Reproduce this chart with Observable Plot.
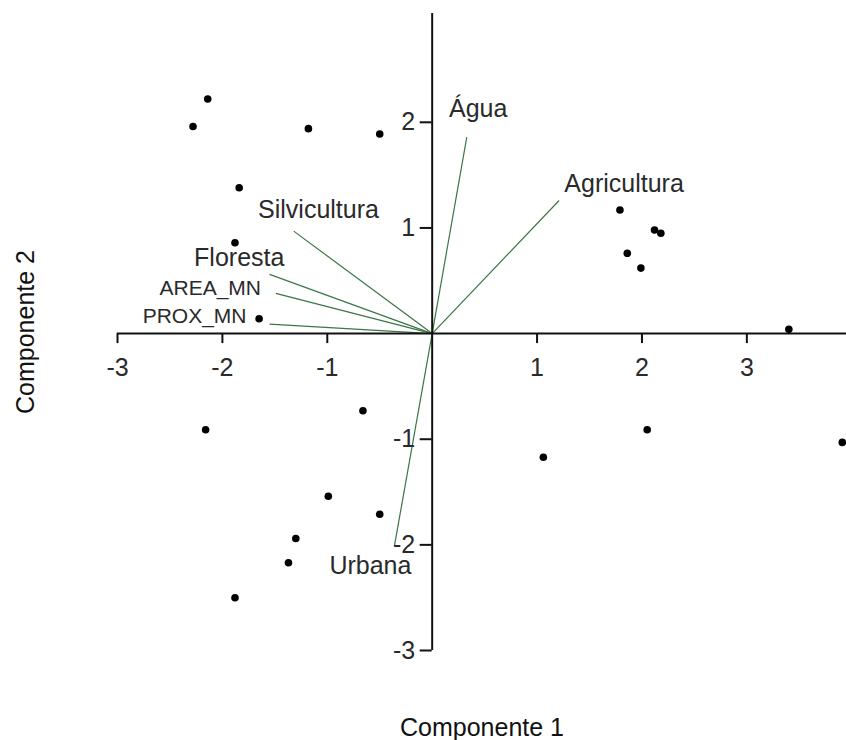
<!DOCTYPE html>
<html>
<head>
<meta charset="utf-8">
<script src="https://cdn.jsdelivr.net/npm/d3@7"></script>
<script src="https://cdn.jsdelivr.net/npm/@observablehq/plot@0.6"></script>
<style>
  html, body { margin: 0; padding: 0; background: #fff; }
  #chart svg { display: block; }
</style>
</head>
<body>
<div id="chart"></div>
<script>
// Scores (observations) on Componente 1 / Componente 2
const scoreX = [-2.14, -2.28, -1.18, -0.50, -1.84, -1.88, -1.65,
                 1.79, 2.12, 2.18, 1.86, 1.99, 3.40,
                -0.66, -2.16, -0.99, -0.50, -1.30, -1.37, -1.88,
                 1.06, 2.05, 3.91];
const scoreY = [2.22, 1.96, 1.94, 1.89, 1.38, 0.86, 0.14,
                1.17, 0.98, 0.95, 0.76, 0.62, 0.04,
               -0.73, -0.91, -1.54, -1.71, -1.94, -2.17, -2.50,
               -1.17, -0.91, -1.03];

// Variable loadings (vectors)
const varNames = ["Água", "Agricultura", "Silvicultura", "Floresta", "AREA_MN", "PROX_MN", "Urbana"];
const varX = [0.33, 1.21, -1.32, -1.55, -1.49, -1.55, -0.36];
const varY = [1.86, 1.26, 0.97, 0.56, 0.38, 0.09, -2.01];
// Label anchor points (data units)
const labelX = [0.16, 1.26, -1.66, -2.27, -2.60, -2.76, -0.98];
const labelY = [2.13, 1.42, 1.17, 0.72, 0.43, 0.16, -2.20];
const labelSmall = [false, false, false, false, true, true, false];

const xTicks = [-3, -2, -1, 1, 2, 3];
const yTicks = [-3, -2, -1, 1, 2];
const xTitle = "Componente 1";
const yTitle = "Componente 2";

const scores = scoreX.map((x, i) => ({x, y: scoreY[i]}));
const vars = varNames.map((name, i) => ({
  name, x: varX[i], y: varY[i], lx: labelX[i], ly: labelY[i], small: labelSmall[i]
}));

const font = "'Liberation Sans', Arial, Helvetica, sans-serif";
const textColor = "#2a2a2a";
const green = "#3a7646";

const chart = Plot.plot({
  width: 846,
  height: 740,
  marginLeft: 117,
  marginRight: 0,
  marginTop: 13,
  marginBottom: 90,
  style: {fontFamily: font, fontSize: "25px", background: "#fff", overflow: "visible"},
  x: {domain: [-3, 3.95], axis: null},
  y: {domain: [-3, 3.03], axis: null},
  marks: [
    // vectors
    Plot.link(vars, {x1: 0, y1: 0, x2: "x", y2: "y", stroke: green, strokeWidth: 1.2}),
    // axes crossing at origin
    Plot.ruleY([0], {stroke: "#111", strokeWidth: 2}),
    Plot.ruleX([0], {stroke: "#111", strokeWidth: 2}),
    // ticks
    Plot.ruleX(xTicks, {x: d => d, y1: 0, y2: 0, insetBottom: -10, stroke: "#111", strokeWidth: 2}),
    Plot.ruleY(yTicks, {y: d => d, x1: 0, x2: 0, insetLeft: -12, stroke: "#111", strokeWidth: 2}),
    // tick labels
    Plot.text(xTicks, {x: d => d, y: 0, text: d => String(d), dy: 34, lineAnchor: "middle", textAnchor: "middle", fill: textColor, fontSize: 25}),
    Plot.text(yTicks, {x: 0, y: d => d, text: d => String(d), dx: -17, lineAnchor: "middle", textAnchor: "end", fill: textColor, fontSize: 25}),
    // scores
    Plot.dot(scores, {x: "x", y: "y", r: 3.8, fill: "#000", stroke: "none"}),
    // variable labels
    Plot.text(vars.filter(d => !d.small), {x: "lx", y: "ly", text: "name", textAnchor: "start", lineAnchor: "middle", fill: textColor, fontSize: 25}),
    Plot.text(vars.filter(d => d.small), {x: "lx", y: "ly", text: "name", textAnchor: "start", lineAnchor: "middle", fill: textColor, fontSize: 21}),
    // axis titles
    Plot.text([xTitle], {frameAnchor: "bottom", text: d => d, dy: 77, textAnchor: "middle", lineAnchor: "middle", fill: "#111", fontSize: 25}),
    Plot.text([yTitle], {frameAnchor: "left", text: d => d, dx: -92, rotate: -90, textAnchor: "middle", lineAnchor: "middle", fill: "#111", fontSize: 25})
  ]
});
document.getElementById("chart").appendChild(chart);
</script>
</body>
</html>
